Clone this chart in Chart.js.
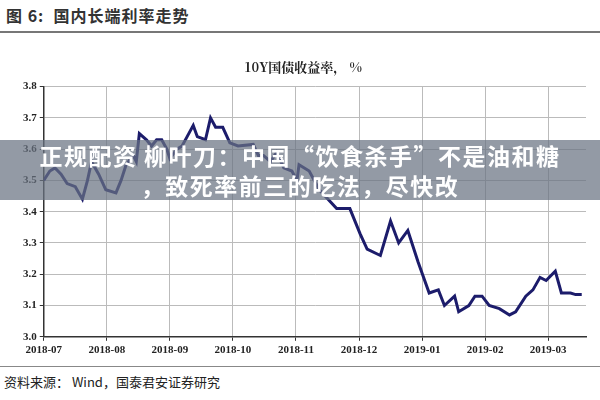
<!DOCTYPE html>
<html><head><meta charset="utf-8">
<script src="https://cdn.jsdelivr.net/npm/chart.js@4"></script>
<style>
body{margin:0;width:600px;height:400px;background:#fff;position:relative;overflow:hidden;font-family:"Noto Sans CJK SC",serif}
#hdr{position:absolute;left:6px;top:3px;font-size:16px;font-weight:bold;color:#333;letter-spacing:1px}
#hl{position:absolute;left:0;right:0;top:31px;border-top:2px solid #777}
#fl{position:absolute;left:0;right:0;top:366px;border-top:1px solid #888}
#ftr{position:absolute;left:4px;top:372px;font-size:13px;color:#222}
#wrap{position:absolute;left:0;top:55px;width:600px;height:305px}
#ban{position:absolute;left:0;top:140px;width:600px;height:60px;background:rgba(105,115,130,0.72);color:#fff;font-weight:bold;font-size:23px;letter-spacing:1.5px;text-align:center;line-height:30px;padding-top:0px;box-sizing:border-box;white-space:nowrap}
</style></head><body>
<div id="hdr">图 6:&nbsp;&nbsp;国内长端利率走势</div><div id="hl"></div>
<div id="wrap"><canvas id="c"></canvas></div>
<div id="fl"></div><div id="ftr">资料来源：&nbsp;Wind，国泰君安证券研究</div>
<div id="ban">正规配资 柳叶刀：中国“饮食杀手”不是油和糖<br>，致死率前三的吃法，尽快改</div>
<script>
const tickLabels=["2018-07","2018-08","2018-09","2018-10","2018-11","2018-12","2019-01","2019-02","2019-03"];
const pxPos=[49,55,60,66,72,80,87,92,96,103,110,120,125,130,137,140,143,150,155,160,165,170,173,180,185,190,196,200,208,213,218,225,232,240,255,260,265,272,278,285,293,298,300,310,320,337,350,360,367,380,390,398,407,417,428,437,443,453,457,467,473,480,487,497,507,513,523,530,537,543,552,558,567,572,578];
const yields=[3.50,3.53,3.54,3.52,3.49,3.48,3.44,3.50,3.56,3.52,3.47,3.46,3.50,3.55,3.58,3.56,3.65,3.63,3.61,3.63,3.63,3.60,3.57,3.60,3.61,3.64,3.676,3.64,3.63,3.70,3.67,3.67,3.62,3.61,3.615,3.58,3.58,3.56,3.59,3.54,3.53,3.50,3.55,3.53,3.47,3.41,3.41,3.33,3.28,3.26,3.37,3.30,3.34,3.24,3.14,3.15,3.10,3.13,3.08,3.10,3.13,3.13,3.10,3.09,3.07,3.08,3.13,3.15,3.19,3.18,3.21,3.14,3.14,3.135,3.135];
const months=pxPos.map(p=>(p-49)/62);
new Chart(document.getElementById('c'),{type:'line',
data:{datasets:[{data:months.map((m,i)=>({x:m,y:yields[i]})),borderColor:'#1c1c6b',borderWidth:3,pointRadius:0,tension:0}]},
options:{responsive:true,maintainAspectRatio:false,animation:false,
layout:{padding:{left:20,right:14,top:0,bottom:0}},
plugins:{legend:{display:false},title:{display:true,text:'10Y国债收益率， %',color:'#222',font:{size:13,weight:'bold',family:'"Noto Serif CJK SC","Noto Sans CJK SC",serif'},padding:{top:4,bottom:12}}},
scales:{x:{type:'linear',min:0,max:8.6,border:{color:'#333',width:1.5},
 afterBuildTicks:a=>{a.ticks=tickLabels.map((_,i)=>({value:i}));},
 ticks:{callback:(v)=>tickLabels[v]||'',color:'#222',font:{size:11,weight:'bold',family:'"Liberation Serif",serif'},maxRotation:0,autoSkip:false},
 grid:{color:'#bbb',borderDash:[1,4],drawTicks:true,tickColor:'#333',tickLength:4}},
y:{min:3.0,max:3.8,border:{color:'#333',width:1.5},
 ticks:{stepSize:0.1,callback:v=>v.toFixed(1),color:'#222',font:{size:11,weight:'bold',family:'"Liberation Serif",serif'}},
 grid:{color:'#bbb',borderDash:[1,4],tickColor:'#333',tickLength:4}}}}});
</script></body></html>
